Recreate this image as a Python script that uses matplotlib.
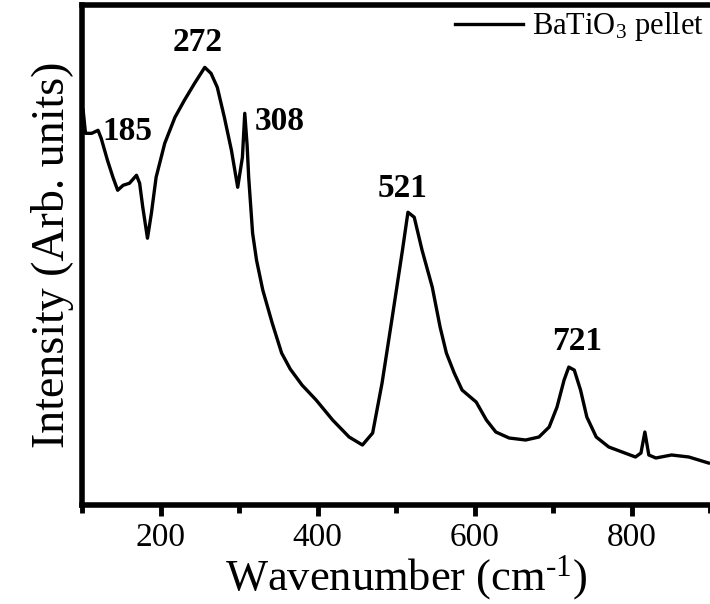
import numpy as np
import matplotlib
matplotlib.use('Agg')
import matplotlib.pyplot as plt
from matplotlib.ticker import MultipleLocator, NullLocator

# fonts: Times-like serif everywhere, mathtext too
plt.rcParams['font.family'] = 'Liberation Serif'
plt.rcParams['mathtext.fontset'] = 'custom'
plt.rcParams['mathtext.rm'] = 'Liberation Serif'
plt.rcParams['mathtext.it'] = 'Liberation Serif:italic'
plt.rcParams['mathtext.bf'] = 'Liberation Serif:bold'

#### data ####
wavenumber = [101, 104, 112, 120, 124, 132, 139, 145, 152, 160, 169, 173, 177, 183,
              188, 194, 205, 218, 230, 243, 256, 264, 272, 281, 290, 298, 304, 307,
              310, 312, 317, 322, 330, 342, 354, 365, 380, 398, 419, 440, 457, 470,
              482, 495, 508, 515, 523, 533, 546, 556, 564, 574, 584, 602, 615, 627,
              644, 665, 682, 695, 705, 714, 720, 727, 735, 743, 755, 771, 788, 805,
              812, 817, 822, 831, 851, 873, 898]
intensity = [395, 372, 372, 375, 367, 345, 328, 315, 320, 322, 330, 322, 298, 267,
             292, 328, 362, 388, 405, 422, 438, 432, 418, 388, 355, 318, 348, 392,
             360, 328, 272, 245, 215, 182, 152, 136, 120, 105, 85, 68, 60, 72,
             122, 188, 255, 293, 288, 255, 218, 178, 152, 132, 115, 103, 85, 73,
             67, 65, 68, 78, 98, 125, 138, 135, 115, 88, 68, 58, 53, 48,
             52, 73, 50, 47, 50, 48, 42]

peak_labels = ['185', '272', '308', '521', '721']
peak_x = [158, 247, 352, 508, 730]
peak_y = [374, 463, 384, 317, 164]

#### plot ####
fig = plt.figure(figsize=(7.1, 6.04), dpi=100)
ax = fig.add_axes([0.116, 0.164, 0.884, 0.827])

ax.plot(wavenumber, intensity, color='black', lw=2.4, label='BaTiO$_3$ pellet')

for lab, px, py in zip(peak_labels, peak_x, peak_y):
    ax.text(px, py, lab, fontsize=24, fontweight='bold', ha='center', va='center')

ax.set_xlim(100, 900)
ax.set_ylim(0, 500)

ax.xaxis.set_major_locator(MultipleLocator(200))
ax.xaxis.set_minor_locator(MultipleLocator(100))
ax.yaxis.set_major_locator(NullLocator())
ax.yaxis.set_minor_locator(NullLocator())
ax.tick_params(axis='x', which='major', direction='out', length=8, width=3.5,
               labelsize=24, pad=5)
ax.tick_params(axis='x', which='minor', direction='out', length=5.5, width=3.5)

for s in ['left', 'bottom', 'top']:
    ax.spines[s].set_linewidth(4)
ax.spines['right'].set_visible(False)

ax.set_xlabel('Wavenumber (cm$^{\u20101}$)', fontsize=32, labelpad=0, x=0.515)
ax.set_ylabel('Intensity (Arb. units)', fontsize=33, labelpad=6)

ax.legend(loc='upper right', bbox_to_anchor=(0.99, 0.99), frameon=False,
          fontsize=22, handlelength=2.2, handletextpad=0.3, borderpad=0,
          borderaxespad=0)

fig.savefig('out.png', dpi=100)
